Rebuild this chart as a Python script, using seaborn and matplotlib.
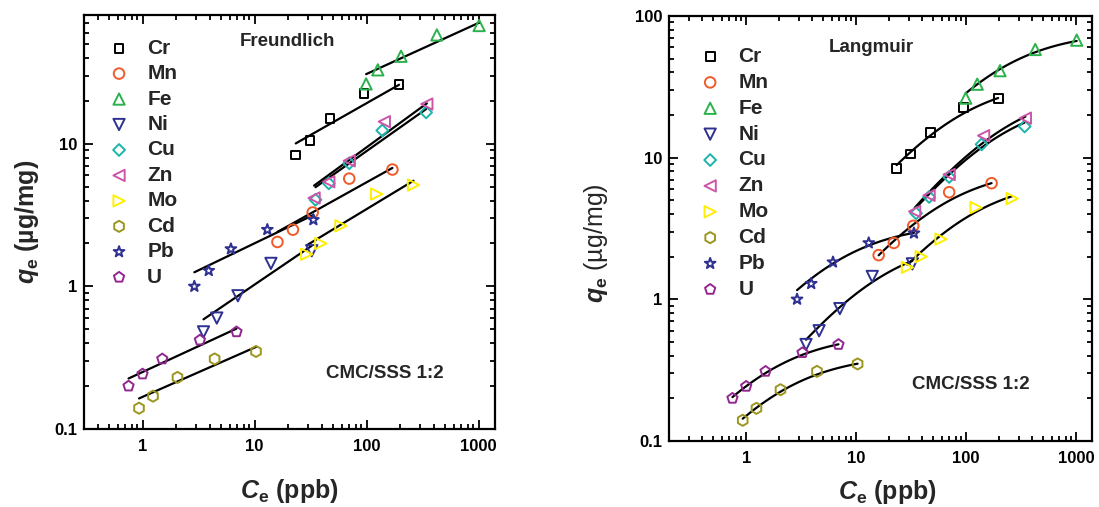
import matplotlib
matplotlib.use('Agg')
import matplotlib.pyplot as plt
from matplotlib.ticker import FixedLocator, FixedFormatter, NullFormatter
import numpy as np
import pandas as pd
import seaborn as sns

METALS = ['Cr', 'Mn', 'Fe', 'Ni', 'Cu', 'Zn', 'Mo', 'Cd', 'Pb', 'U']
COLORS = ['#000000', '#F15A29', '#2BB24C', '#2E3192', '#1BB5AC',
          '#CC55AA', '#FFEE00', '#9B961E', '#2E3192', '#92278F']
MARKERS = ['s', 'o', '^', 'v', 'D', '<', '>', 'h', '*', 'p']
SIZES = [40, 58, 66, 66, 36, 66, 66, 64, 66, 60]

# equilibrium concentration Ce (ppb) and uptake qe (ug/mg)
ce_cr = [23.3, 31.3, 47.2, 95, 195]
qe_cr = [8.35, 10.6, 15.1, 22.5, 26.0]
ce_mn = [16, 22, 33, 70, 170]
qe_mn = [2.05, 2.5, 3.3, 5.7, 6.6]
ce_fe = [99, 126, 203, 424, 1010]
qe_fe = [26.3, 33.0, 41.1, 58.0, 67.5]
ce_ni = [3.5, 4.6, 7.1, 14, 32.4]
qe_ni = [0.48, 0.6, 0.86, 1.45, 1.78]
ce_cu = [35, 46, 70, 138, 340]
qe_cu = [4.05, 5.28, 7.3, 12.4, 16.6]
ce_zn = [34, 46, 70, 144, 345]
qe_zn = [4.17, 5.42, 7.6, 14.3, 19.0]
ce_mo = [29.2, 39, 59, 123, 262]
qe_mo = [1.68, 2.0, 2.66, 4.44, 5.14]
ce_cd = [0.93, 1.24, 2.05, 4.4, 10.3]
qe_cd = [0.14, 0.17, 0.23, 0.31, 0.35]
ce_pb = [2.9, 3.9, 6.15, 13, 33.5]
qe_pb = [1.0, 1.29, 1.83, 2.5, 2.93]
ce_u = [0.75, 1.0, 1.5, 3.25, 6.9]
qe_u = [0.2, 0.243, 0.31, 0.42, 0.48]

CE = [ce_cr, ce_mn, ce_fe, ce_ni, ce_cu, ce_zn, ce_mo, ce_cd, ce_pb, ce_u]
QE = [qe_cr, qe_mn, qe_fe, qe_ni, qe_cu, qe_zn, qe_mo, qe_cd, qe_pb, qe_u]

# Freundlich fit parameters: qe = KF * Ce^n
freundlich_kf = [2.47, 0.718, 5.94, 0.301, 0.690, 0.675, 0.391, 0.168, 0.840, 0.251]
freundlich_n = [0.446, 0.437, 0.358, 0.534, 0.555, 0.573, 0.475, 0.346, 0.378, 0.363]

# Langmuir fit parameters: qe = qm * KL * Ce / (1 + KL * Ce)
langmuir_qm = [36, 8.6, 78, 2.73, 27, 31, 7.2, 0.41, 3.45, 0.577]
langmuir_kl = [0.014, 0.0195, 0.0058, 0.067, 0.0056, 0.0049, 0.011, 0.58, 0.175, 0.73]

XTICKS = [1, 10, 100, 1000]
XTICKLABELS = ['1', '10', '100', '1000']

sns.set_style('ticks')
plt.rcParams['font.family'] = ['Liberation Sans', 'DejaVu Sans']
plt.rcParams['font.weight'] = 'bold'
plt.rcParams['mathtext.fontset'] = 'custom'
plt.rcParams['mathtext.it'] = 'Liberation Sans:italic:bold'
plt.rcParams['mathtext.rm'] = 'Liberation Sans:bold'
plt.rcParams['mathtext.bf'] = 'Liberation Sans:bold'


def style_axes(ax, xlim, ylim, yticks):
    ax.set_xlim(*xlim)
    ax.set_ylim(*ylim)
    ax.xaxis.set_major_locator(FixedLocator(XTICKS))
    ax.xaxis.set_major_formatter(FixedFormatter(XTICKLABELS))
    ax.yaxis.set_major_locator(FixedLocator(yticks))
    ax.yaxis.set_major_formatter(FixedFormatter([f'{v:g}' for v in yticks]))
    ax.xaxis.set_minor_formatter(NullFormatter())
    ax.yaxis.set_minor_formatter(NullFormatter())
    ax.tick_params(which='both', direction='in', top=True, right=True,
                   width=1.3, labelsize=12, colors='black')
    ax.tick_params(which='major', length=6.5)
    ax.tick_params(which='minor', length=3.5)
    ax.tick_params(axis='x', pad=7)
    ax.tick_params(axis='y', pad=5)
    for s in ax.spines.values():
        s.set_linewidth(1.6)
        s.set_color('black')


def draw(ax, model):
    for i, metal in enumerate(METALS):
        df = pd.DataFrame({'Ce': CE[i], 'qe': QE[i]})
        xs = np.geomspace(min(CE[i]), max(CE[i]), 120)
        if model == 'freundlich':
            ys = freundlich_kf[i] * xs ** freundlich_n[i]
        else:
            k = langmuir_kl[i]
            ys = langmuir_qm[i] * k * xs / (1 + k * xs)
        sns.lineplot(x=xs, y=ys, color='black', linewidth=1.6, sort=False,
                     estimator=None, ax=ax)
        sns.scatterplot(df, x='Ce', y='qe', marker=MARKERS[i], s=SIZES[i],
                        color=COLORS[i], facecolor='none',
                        edgecolor=COLORS[i], linewidth=1.4, label=metal,
                        ax=ax, zorder=3)


fig = plt.figure(figsize=(10.99, 5.07), dpi=100)
ax1 = fig.add_axes([0.0764, 0.1538, 0.374, 0.8166])
ax2 = fig.add_axes([0.609, 0.1302, 0.3849, 0.8383])

for ax in (ax1, ax2):
    ax.set_xscale('log')
    ax.set_yscale('log')

draw(ax1, 'freundlich')
draw(ax2, 'langmuir')

style_axes(ax1, (0.3, 1400), (0.1, 80), [0.1, 1, 10])
style_axes(ax2, (0.2, 1400), (0.1, 100), [0.1, 1, 10, 100])

legend_kw = dict(loc='upper left', frameon=False, borderpad=0,
                 borderaxespad=0, handlelength=1.0, handletextpad=0.85,
                 prop=dict(weight='bold', size=15))
ax1.legend(bbox_to_anchor=(0.060, 0.943), labelspacing=0.31, **legend_kw)
ax2.legend(bbox_to_anchor=(0.072, 0.927), labelspacing=0.33, **legend_kw)

ax1.text(0.494, 0.9355, 'Freundlich', transform=ax1.transAxes,
         ha='center', va='center', fontsize=13.5, fontweight='bold')
ax2.text(0.477, 0.925, 'Langmuir', transform=ax2.transAxes,
         ha='center', va='center', fontsize=13.5, fontweight='bold')
ax1.text(0.732, 0.1345, 'CMC/SSS 1:2', transform=ax1.transAxes,
         ha='center', va='center', fontsize=13.5, fontweight='bold')
ax2.text(0.713, 0.132, 'CMC/SSS 1:2', transform=ax2.transAxes,
         ha='center', va='center', fontsize=13.5, fontweight='bold')

ax1.set_xlabel(r'$C_\mathrm{e}$ (ppb)', fontsize=18, fontweight='bold')
ax2.set_xlabel(r'$C_\mathrm{e}$ (ppb)', fontsize=18, fontweight='bold')
ax1.set_ylabel(r'$q_\mathrm{e}$ (µg/mg)', fontsize=18, fontweight='bold')
ax2.set_ylabel(r'$q_\mathrm{e}$ (µg/mg)', fontsize=18, fontweight='normal')
ax1.xaxis.set_label_coords(0.5, -0.116)
ax2.xaxis.set_label_coords(0.516, -0.088)
ax1.yaxis.set_label_coords(-0.105, 0.5)
ax2.yaxis.set_label_coords(-0.140, 0.466)
ax1.xaxis.label.set_va('top')
ax2.xaxis.label.set_va('top')

fig.savefig('out.png', dpi=100)
